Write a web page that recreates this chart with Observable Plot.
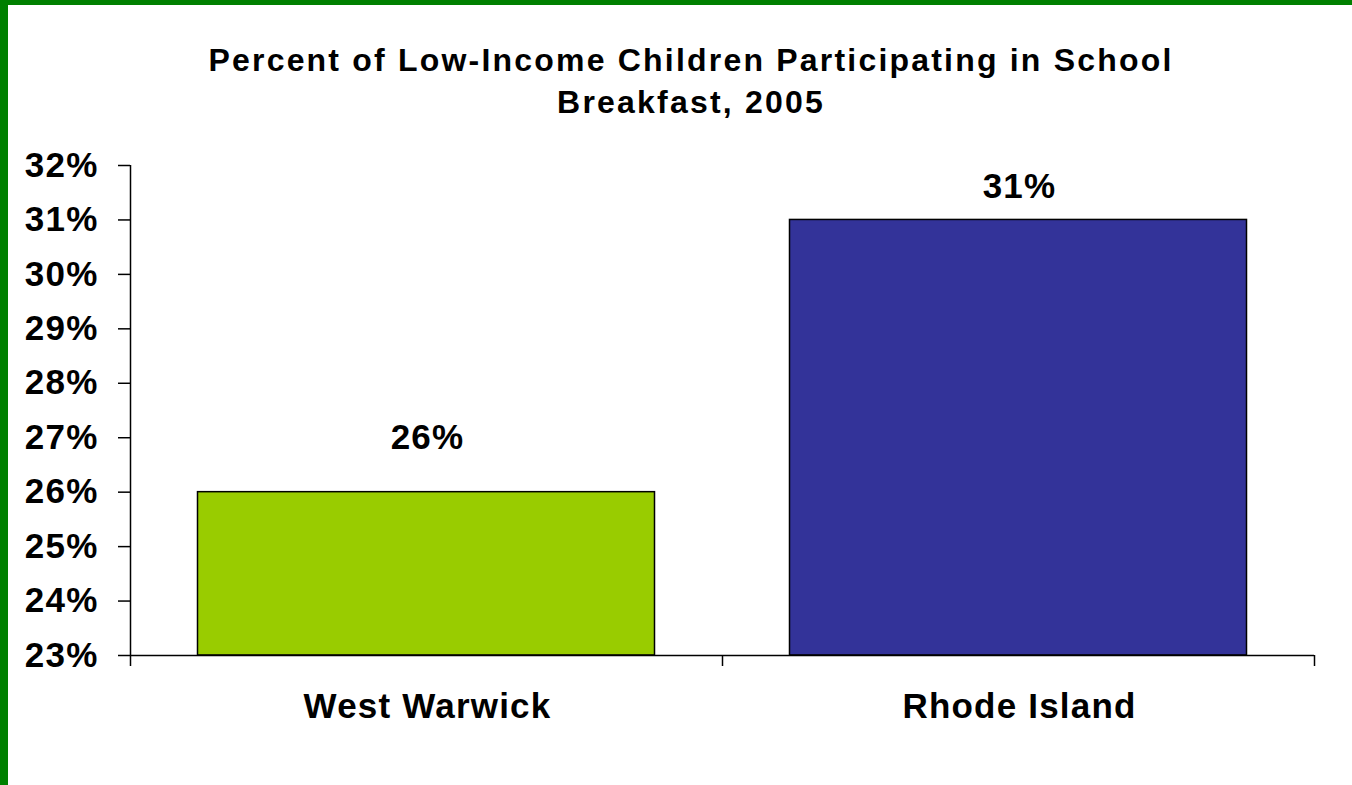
<!DOCTYPE html>
<html>
<head>
<meta charset="utf-8">
<script src="https://cdn.jsdelivr.net/npm/d3@7"></script>
<script src="https://cdn.jsdelivr.net/npm/@observablehq/plot@0.6"></script>
<style>
  html, body { margin: 0; padding: 0; background: #fff; }
  #frame {
    width: 1344px; height: 780px;
    border-top: 5px solid #008000; border-left: 8px solid #008000;
    font-family: "Liberation Sans", Arial, sans-serif;
    overflow: hidden;
  }
  #title {
    padding-top: 34px; padding-left: 22px;
    font-size: 32px; font-weight: bold; line-height: 42px;
    text-align: center; color: #000; letter-spacing: 2.2px;
  }
  #chart svg text { letter-spacing: 1.2px; }
</style>
</head>
<body>
<div id="frame">
  <div id="title">Percent of Low-Income Children Participating in School<br>Breakfast, 2005</div>
  <div id="chart"></div>
</div>
<script>
const categories = ["West Warwick", "Rhode Island"];
const values = [26, 31];
const labels = ["26%", "31%"];
const colors = ["#99CC00", "#333399"];
const yTicks = [23, 24, 25, 26, 27, 28, 29, 30, 31, 32];

const data = categories.map((c, i) => ({cat: c, i, value: values[i], label: labels[i], color: colors[i]}));

const chart = Plot.plot({
  width: 1344,
  height: 657,
  marginTop: 42,
  marginBottom: 125,
  marginLeft: 122,
  marginRight: 38,
  style: {fontFamily: "'Liberation Sans', Arial, sans-serif", fontWeight: "bold", color: "#000", background: "#fff", overflow: "visible"},
  x: {domain: [0, categories.length], axis: null},
  y: {domain: [yTicks[0], yTicks[yTicks.length - 1]], axis: null},
  marks: [
    Plot.rect(data, {
      x1: d => d.i, x2: d => d.i + 1, y1: yTicks[0], y2: "value",
      fill: d => d.color, stroke: "#000", strokeWidth: 1.5,
      insetLeft: 67.5, insetRight: 67.5
    }),
    Plot.axisY({
      ticks: yTicks, tickSize: 12, tickPadding: 20,
      tickFormat: d => d + "%", fontSize: 35, fontWeight: "bold",
      stroke: "#000", strokeWidth: 1.5, label: null
    }),
    Plot.axisX({
      ticks: d3.range(0, categories.length + 1), tickSize: 11,
      tickFormat: () => "", stroke: "#000", strokeWidth: 1.5, label: null
    }),
    Plot.ruleX([0], {stroke: "#000", strokeWidth: 1.5}),
    Plot.ruleY([yTicks[0]], {stroke: "#000", strokeWidth: 1.5}),
    Plot.text(data.filter(d => d.i === 0), {
      x: d => d.i + 0.5, y: "value", text: "label",
      dy: -54, dx: 1, fontSize: 35, fontWeight: "bold", fill: "#000"
    }),
    Plot.text(data.filter(d => d.i === 1), {
      x: d => d.i + 0.5, y: "value", text: "label",
      dy: -33, dx: 1, fontSize: 35, fontWeight: "bold", fill: "#000"
    }),
    Plot.text(data, {
      x: d => d.i + 0.5, y: yTicks[0], text: "cat",
      dy: 51, dx: 1, fontSize: 35, fontWeight: "bold", fill: "#000"
    })
  ]
});
document.getElementById("chart").appendChild(chart);
</script>
</body>
</html>
